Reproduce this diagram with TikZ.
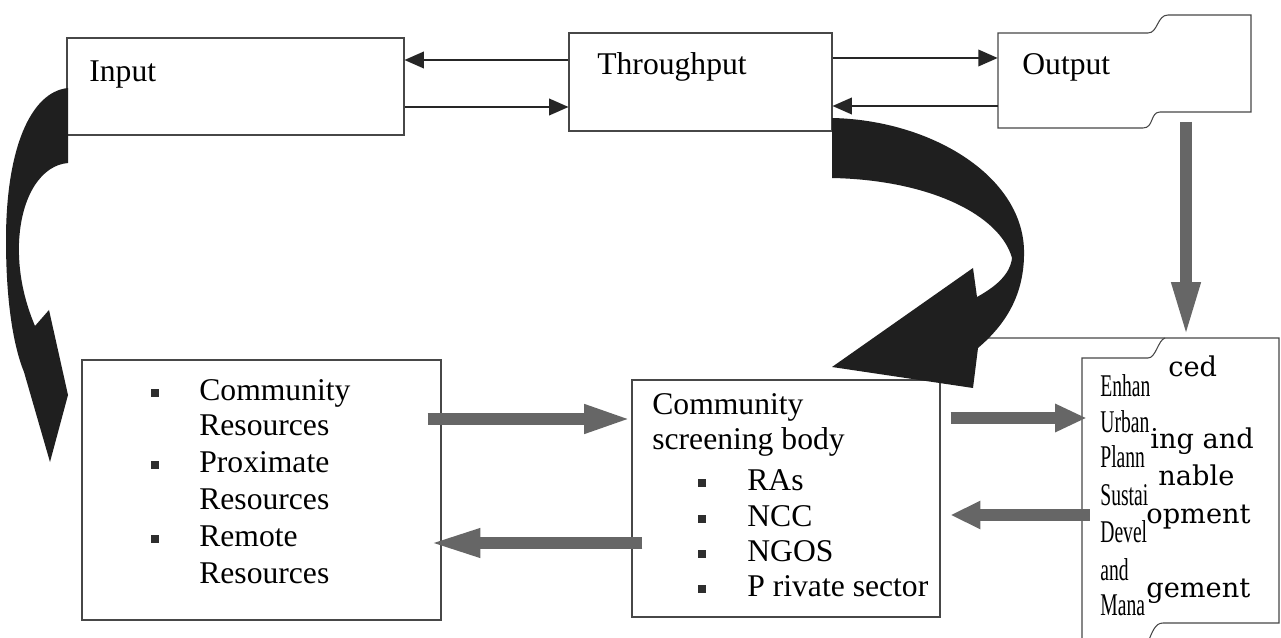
\documentclass[tikz,border=0pt]{standalone}
\usepackage{fontspec}
\usepackage{graphicx}
\setmainfont{Liberation Serif}
\newfontfamily\wideserif{DejaVu Serif}
\usetikzlibrary{arrows.meta,calc,fit}
\begin{document}
\begin{tikzpicture}[x=0.02cm,y=-0.02cm,
  frame/.style={draw=black!72,line width=0.6pt},
  box/.style={frame,inner sep=0pt},
  hook/.style={inner sep=0pt},
  label/.style={anchor=base west,inner sep=0pt,font=\fontsize{18}{21}\selectfont},
  narrowlabel/.style={anchor=base west,inner sep=0pt,font=\fontsize{18}{21}\selectfont},
  widelabel/.style={anchor=base west,inner sep=0pt,font=\wideserif\fontsize{15.5}{18}\selectfont},
  thinlink/.style={draw=black!85,line width=0.8pt,-{Triangle[length=11pt,width=9.5pt]}},
  blockarrow/.style={draw=black!60,line width=6.4pt,-{Triangle[length=#1,width=15pt]}},
  bigcurve/.style={fill=black!88,draw=none},
  dot/.style={fill=black!82,minimum size=0.16cm,inner sep=0pt},
]
\useasboundingbox[fill=white] (0,0) rectangle (1281,638);

% ---- top row: input / throughput / output
\node[box,fit={(67,38)(404,135)}] (in) {};
\node[box,fit={(569,33)(832,131)}] (tp) {};
\node[hook,fit={(998,15)(1251,128)}] (out) {};
\draw[frame] (998,33) -- (1148,33) .. controls (1158,33) and (1157,15) .. (1168,15)
  -- (1251,15) -- (1251,112) -- (1160,112) .. controls (1150,112) and (1154,128) .. (1143,128)
  -- (998,128) -- cycle;
\node[label] (tin) at (89,82) {Input};
\node[label] (ttp) at (597,75) {Throughput};
\node[label] (tout) at (1022,75) {Output};

\draw[thinlink] (tp.west |- 0,60) -- (in.east |- 0,60);
\draw[thinlink] (in.east |- 0,107) -- (tp.west |- 0,107);
\draw[thinlink] (tp.east |- 0,58) -- (out.west |- 0,58);
\draw[thinlink] (out.west |- 0,106) -- (tp.east |- 0,106);

% ---- bottom row boxes
\node[box,fit={(82,360)(441,620)}] (cr) {};
\node[box,fit={(632,380)(940,617)}] (sc) {};
\node[hook,fit={(1082,337)(1279,638)}] (en) {};
\draw[frame] (sc.north east) -- (940,338) -- (1279,338) -- (1279,623) -- (1163,623)
  .. controls (1155,623) and (1152,632) .. (1147,645);
\draw[frame] (1082,645) -- (1082,358) -- (1148,358) .. controls (1156,358) and (1158,340) .. (1165,338);

% community resources
\foreach \yy/\txt in {400/Community,436/Resources,472/Proximate,509/Resources,546/Remote,583/Resources}
  \node[label] at (199,\yy) {\txt};
\foreach \yy in {400,472,546}
  \node[dot] at (155,\yy-7) {};

% community screening body
\node[label] (sch) at (652,415) {Community};
\node[label] at (652,449) {screening body};
\foreach \yy/\txt in {490/RAs,526/NCC,561/NGOS,596/P rivate sector}{
  \node[label] at (747,\yy) {\txt};
  \node[dot] at (702,\yy-7) {};
}

% enhanced urban planning
\foreach \yy/\txt in {397/Enhan,432/Urban,467/Plann,505/Sustai,542/Devel,580/and,615/Mana}
  \node[narrowlabel] at (1100,\yy) {\scalebox{0.62}[1]{\txt}};
\node[widelabel] at (1168,377) {ced};
\node[widelabel] at (1150,448) {ing and};
\node[widelabel] at (1158,485) {nable};
\node[widelabel] at (1146,523) {opment};
\node[widelabel] at (1146,597) {gement};

% ---- grey block arrows
\draw[blockarrow=27pt] ($(cr.east |- 0,419)+(-14,0)$) -- (sc.west |- 0,419);
\draw[blockarrow=29pt] ($(sc.west |- 0,543)+(11,0)$) -- ($(cr.east |- 0,543)+(-12,0)$);
\draw[blockarrow=18pt] ($(sc.east |- 0,418)+(10,0)$) -- ($(en.west |- 0,418)+(5,0)$);
\draw[blockarrow=17pt] ($(en.west |- 0,515)+(8,0)$) -- ($(sc.east |- 0,515)+(10,0)$);
\coordinate (drop) at (1186,122);
\draw[blockarrow=31pt] (drop) -- (en.north -| drop);

% ---- curved feedback arrows
\path[bigcurve] (832,118) .. controls (930,120) and (1022,175) .. (1024,250)
  .. controls (1025,295) and (1005,325) .. (978,348)
  -- (973,388) -- (832,367) -- (973,268) -- (977,297)
  .. controls (995,287) and (1010,275) .. (1012,258)
  .. controls (1000,215) and (930,180) .. (832,178) -- cycle;
\path[bigcurve] (68,88) .. controls (30,92) and (6,150) .. (6,240)
  .. controls (6,300) and (13,345) .. (24,372)
  -- (50,462) -- (68,395) -- (49,310) -- (35,326)
  .. controls (24,300) and (18,272) .. (19,243)
  .. controls (21,195) and (42,165) .. (68,163) -- cycle;
\end{tikzpicture}
\end{document}
